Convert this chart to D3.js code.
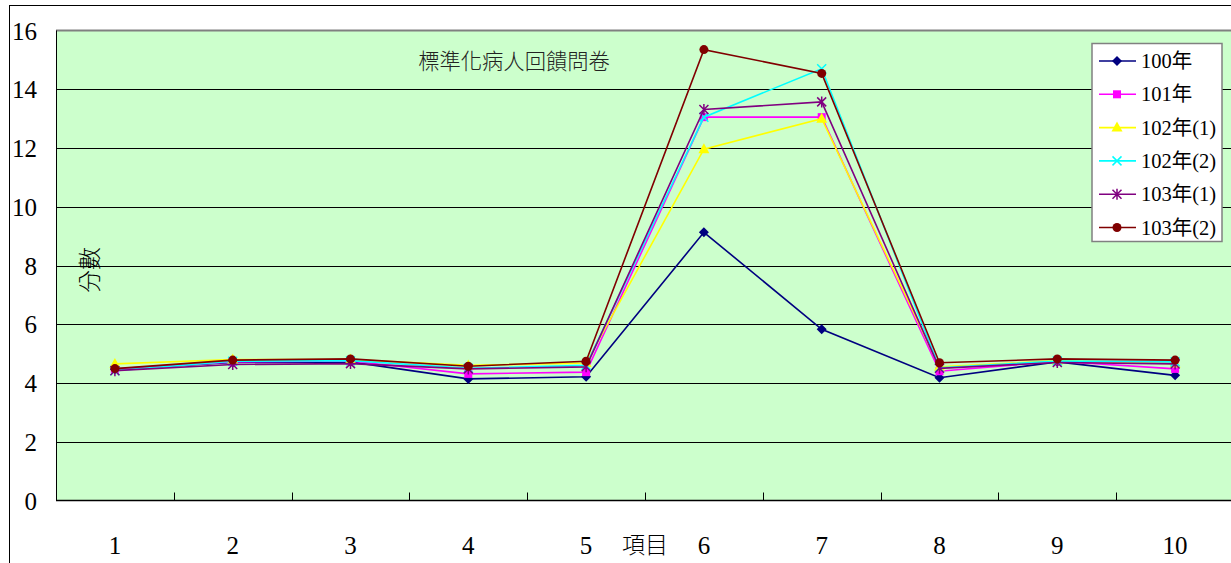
<!DOCTYPE html>
<html>
<head>
<meta charset="utf-8">
<script src="https://cdn.jsdelivr.net/npm/d3@7/dist/d3.min.js"></script>
<style>
  html, body { margin: 0; padding: 0; background: #fff; }
  svg { display: block; }
  .serif { font-family: "Liberation Serif", "DejaVu Serif", "Noto Sans CJK TC", serif; }
  .cjk { font-family: "Noto Sans CJK TC", "Noto Sans CJK SC", sans-serif; }
</style>
</head>
<body>
<svg id="chart" width="1231" height="563"></svg>
<script>
// Survey items on the x axis
const items = ["1", "2", "3", "4", "5", "6", "7", "8", "9", "10"];
const yTicks = [0, 2, 4, 6, 8, 10, 12, 14, 16];

// Mean score per item for each survey round
const s100 = [4.47, 4.70, 4.72, 4.14, 4.21, 9.13, 5.83, 4.18, 4.72, 4.26];
const s101 = [4.48, 4.72, 4.75, 4.31, 4.37, 13.05, 13.05, 4.40, 4.74, 4.48];
const s102a = [4.65, 4.80, 4.80, 4.60, 4.68, 11.96, 13.00, 4.55, 4.76, 4.66];
const s102b = [4.42, 4.74, 4.76, 4.50, 4.60, 13.05, 14.70, 4.52, 4.75, 4.72];
const s103a = [4.42, 4.63, 4.66, 4.48, 4.55, 13.31, 13.57, 4.50, 4.70, 4.65];
const s103b = [4.49, 4.78, 4.82, 4.57, 4.74, 15.35, 14.54, 4.69, 4.82, 4.78];

const seriesNames = ["100年", "101年", "102年(1)", "102年(2)", "103年(1)", "103年(2)"];
const seriesValues = [s100, s101, s102a, s102b, s103a, s103b];
const seriesColors = ["#000080", "#FF00FF", "#FFFF00", "#00FFFF", "#800080", "#800000"];
const seriesMarkers = ["diamond", "square", "triangle", "cross", "star", "circle"];

const title = "標準化病人回饋問卷";
const yTitle = "分數";
const xTitle = "項目";

const svg = d3.select("#chart");

// chart frame
svg.append("rect")
  .attr("x", 9.5).attr("y", 5.5)
  .attr("width", 1300).attr("height", 600)
  .attr("fill", "#fff").attr("stroke", "#000").attr("stroke-width", 1);

const plot = { left: 56, right: 1234, top: 30.5, bottom: 500.5 };

const x = d3.scaleBand().domain(items).range([plot.left, plot.right]);
const y = d3.scaleLinear().domain([0, 16]).range([plot.bottom, plot.top]);

// plot background
svg.append("rect")
  .attr("x", plot.left).attr("y", plot.top)
  .attr("width", plot.right - plot.left).attr("height", plot.bottom - plot.top)
  .attr("fill", "#CCFFCC");

// horizontal gridlines
svg.append("g")
  .selectAll("line")
  .data(yTicks.filter(d => d > 0 && d < 16))
  .join("line")
  .attr("x1", plot.left).attr("x2", plot.right)
  .attr("y1", d => Math.round(y(d)) + 0.5).attr("y2", d => Math.round(y(d)) + 0.5)
  .attr("stroke", "#000").attr("stroke-width", 1);

// plot border: grey top, black left and bottom
svg.append("line")
  .attr("x1", plot.left).attr("x2", plot.right)
  .attr("y1", plot.top).attr("y2", plot.top)
  .attr("stroke", "#808080").attr("stroke-width", 2);
svg.append("line")
  .attr("x1", plot.left + 0.5).attr("x2", plot.left + 0.5)
  .attr("y1", plot.top).attr("y2", plot.bottom)
  .attr("stroke", "#000").attr("stroke-width", 1);

// x axis with inward ticks at category boundaries
const xAxisG = svg.append("g").attr("transform", `translate(0,${plot.bottom})`);
xAxisG.append("line")
  .attr("x1", plot.left).attr("x2", plot.right)
  .attr("y1", 0).attr("y2", 0)
  .attr("stroke", "#000").attr("stroke-width", 1.5);
xAxisG.selectAll("line.tick")
  .data(items.slice(1))
  .join("line")
  .attr("class", "tick")
  .attr("x1", d => Math.round(x(d)) + 0.5).attr("x2", d => Math.round(x(d)) + 0.5)
  .attr("y1", 0).attr("y2", -8)
  .attr("stroke", "#000").attr("stroke-width", 1);
xAxisG.selectAll("text")
  .data(items)
  .join("text")
  .attr("class", "serif")
  .attr("x", d => x(d) + x.bandwidth() / 2)
  .attr("y", 53)
  .attr("text-anchor", "middle")
  .attr("font-size", 25)
  .attr("fill", "#000")
  .text(d => d);

// y axis labels
svg.append("g")
  .selectAll("text")
  .data(yTicks)
  .join("text")
  .attr("class", "serif")
  .attr("x", 37)
  .attr("y", d => y(d) + 9)
  .attr("text-anchor", "end")
  .attr("font-size", 25)
  .attr("fill", "#000")
  .text(d => d);

// axis titles and chart title
svg.append("text")
  .attr("class", "cjk")
  .attr("transform", `translate(98,270) rotate(-90)`)
  .attr("text-anchor", "middle")
  .attr("font-size", 23)
  .attr("font-weight", 300)
  .attr("fill", "#000")
  .text(yTitle);

svg.append("text")
  .attr("class", "cjk")
  .attr("x", 645).attr("y", 553)
  .attr("text-anchor", "middle")
  .attr("font-size", 23)
  .attr("font-weight", 300)
  .attr("fill", "#000")
  .text(xTitle);

svg.append("text")
  .attr("class", "cjk")
  .attr("x", 514).attr("y", 69)
  .attr("text-anchor", "middle")
  .attr("font-size", 21.3)
  .attr("font-weight", 300)
  .attr("fill", "#222")
  .text(title);

// marker shapes
function marker(sel, type, color) {
  if (type === "diamond") {
    sel.append("path").attr("d", "M0,-5L5,0L0,5L-5,0Z").attr("fill", color);
  } else if (type === "square") {
    sel.append("rect").attr("x", -4).attr("y", -4).attr("width", 8).attr("height", 8).attr("fill", color);
  } else if (type === "triangle") {
    sel.append("path").attr("d", "M0,-6L5.5,4L-5.5,4Z").attr("fill", color);
  } else if (type === "cross") {
    sel.append("path").attr("d", "M-4.5,-4.5L4.5,4.5M-4.5,4.5L4.5,-4.5")
      .attr("stroke", color).attr("stroke-width", 1.5).attr("fill", "none");
  } else if (type === "star") {
    sel.append("path").attr("d", "M-4.5,-4.5L4.5,4.5M-4.5,4.5L4.5,-4.5M0,-5.5L0,5.5")
      .attr("stroke", color).attr("stroke-width", 1.5).attr("fill", "none");
  } else if (type === "circle") {
    sel.append("circle").attr("r", 4.5).attr("fill", color);
  }
}

const line = d3.line()
  .x((d, i) => x(items[i]) + x.bandwidth() / 2)
  .y(d => y(d));

seriesValues.forEach((vals, k) => {
  const g = svg.append("g");
  g.append("path")
    .attr("d", line(vals))
    .attr("fill", "none")
    .attr("stroke", seriesColors[k])
    .attr("stroke-width", 1.6);
  vals.forEach((v, i) => {
    const m = g.append("g")
      .attr("transform", `translate(${x(items[i]) + x.bandwidth() / 2},${y(v)})`);
    marker(m, seriesMarkers[k], seriesColors[k]);
  });
});

// legend
const legend = svg.append("g");
legend.append("rect")
  .attr("x", 1092).attr("y", 43.5)
  .attr("width", 130).attr("height", 198)
  .attr("fill", "#fff").attr("stroke", "#808080").attr("stroke-width", 1.5);
seriesNames.forEach((name, k) => {
  const yy = 61 + k * 33.3;
  legend.append("line")
    .attr("x1", 1099).attr("x2", 1136)
    .attr("y1", yy).attr("y2", yy)
    .attr("stroke", seriesColors[k]).attr("stroke-width", 1.6);
  const m = legend.append("g").attr("transform", `translate(1117,${yy})`);
  marker(m, seriesMarkers[k], seriesColors[k]);
  legend.append("text")
    .attr("class", "serif")
    .attr("x", 1141).attr("y", yy + 7)
    .attr("font-size", 20.5)
    .attr("fill", "#000")
    .text(name);
});
</script>
</body>
</html>
